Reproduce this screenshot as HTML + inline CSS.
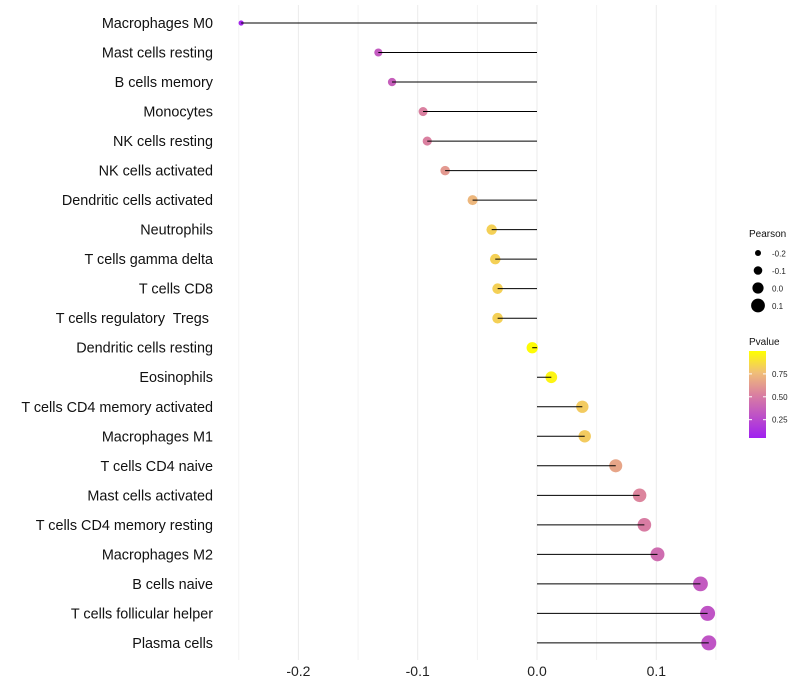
<!DOCTYPE html>
<html><head><meta charset="utf-8"><style>
body{margin:0;background:#fff;}
svg{display:block;font-family:"Liberation Sans",sans-serif;}
text{white-space:pre;}
</style></head><body>
<svg id="c" width="800" height="700"></svg>
<script>
const categories=["Macrophages M0","Mast cells resting","B cells memory","Monocytes","NK cells resting","NK cells activated","Dendritic cells activated","Neutrophils","T cells gamma delta","T cells CD8","T cells regulatory  Tregs ","Dendritic cells resting","Eosinophils","T cells CD4 memory activated","Macrophages M1","T cells CD4 naive","Mast cells activated","T cells CD4 memory resting","Macrophages M2","B cells naive","T cells follicular helper","Plasma cells"];
const pearson=[-0.248,-0.133,-0.1215,-0.0955,-0.092,-0.077,-0.054,-0.038,-0.035,-0.033,-0.033,-0.004,0.012,0.038,0.040,0.066,0.086,0.090,0.101,0.137,0.143,0.144];
const pvalue=[0.03,0.3,0.33,0.5,0.5,0.6,0.72,0.82,0.82,0.82,0.82,0.99,0.96,0.8,0.8,0.65,0.52,0.48,0.4,0.3,0.27,0.27];
const xTicks=[-0.2,-0.1,0.0,0.1];
const xTickLabels=["-0.2","-0.1","0.0","0.1"];
const sizeLegend=[-0.2,-0.1,0.0,0.1];
const colorTicks=[0.25,0.5,0.75];

const NS="http://www.w3.org/2000/svg";
const svg=document.getElementById('c');
function el(t,a,p){const e=document.createElementNS(NS,t);for(const k in a)e.setAttribute(k,a[k]);(p||svg).appendChild(e);return e;}
const x=v=>537+v*1193;
const y=i=>23+i*29.52;
const r=v=>Math.max(1.6,5.7+12.5*v);
const stops=[[0,[160,32,240]],[0.5,[218,128,160]],[0.75,[240,190,120]],[1,[255,255,0]]];
function col(p){p=Math.max(0,Math.min(1,p));for(let i=1;i<stops.length;i++){if(p<=stops[i][0]){const a=stops[i-1],b=stops[i],t=(p-a[0])/(b[0]-a[0]);return 'rgb('+a[1].map((c,j)=>Math.round(c+(b[1][j]-c)*t)).join(',')+')';}}return 'rgb(255,255,0)';}

for(let k=-5;k<=3;k++){const v=k*0.05;const g=el('line',{x1:x(v),x2:x(v),y1:5,y2:660,stroke:k%2===0?'#ebebeb':'#f3f3f3','stroke-width':1});
}
xTicks.forEach((v,i)=>{const t=el('text',{x:x(v),y:676,'text-anchor':'middle','font-size':14,fill:'#222'});t.textContent=xTickLabels[i];
});

categories.forEach((c,i)=>{
 const t=el('text',{x:213,y:y(i)+5,'text-anchor':'end','font-size':14.4,fill:'#111'});t.textContent=c;
 
 const d=el('circle',{cx:x(pearson[i]),cy:y(i),r:r(pearson[i]),fill:col(pvalue[i])});
 
 const l=el('line',{x1:x(0),x2:x(pearson[i]),y1:y(i),y2:y(i),stroke:'#000','stroke-width':1});
 
});

const lt=el('text',{x:749,y:237,'font-size':10,fill:'#111'});lt.textContent='Pearson';

sizeLegend.forEach((v,i)=>{const cy=253+i*17.5;
 const c=el('circle',{cx:758,cy:cy,r:3+1.3*i,fill:'#000'});
 const t=el('text',{x:772,y:cy+3.5,'font-size':8,fill:'#222'});t.textContent=v.toFixed(1);
 });
const ct=el('text',{x:749,y:345,'font-size':10,fill:'#111'});ct.textContent='Pvalue';

const defs=el('defs',{});const lg=el('linearGradient',{id:'g',x1:0,y1:1,x2:0,y2:0},defs);
stops.forEach(s=>el('stop',{offset:s[0],'stop-color':'rgb('+s[1].join(',')+')'},lg));
const bar=el('rect',{x:749,y:351,width:17,height:87,fill:'url(#g)'});

const cy=p=>438-(p-0.05)/0.95*87;
colorTicks.forEach(p=>{el('line',{x1:749,x2:752,y1:cy(p),y2:cy(p),stroke:'#fff'});el('line',{x1:763,x2:766,y1:cy(p),y2:cy(p),stroke:'#fff'});
 const t=el('text',{x:772,y:cy(p)+3,'font-size':8,fill:'#222'});t.textContent=p.toFixed(2);
 });
</script>
</body></html>
